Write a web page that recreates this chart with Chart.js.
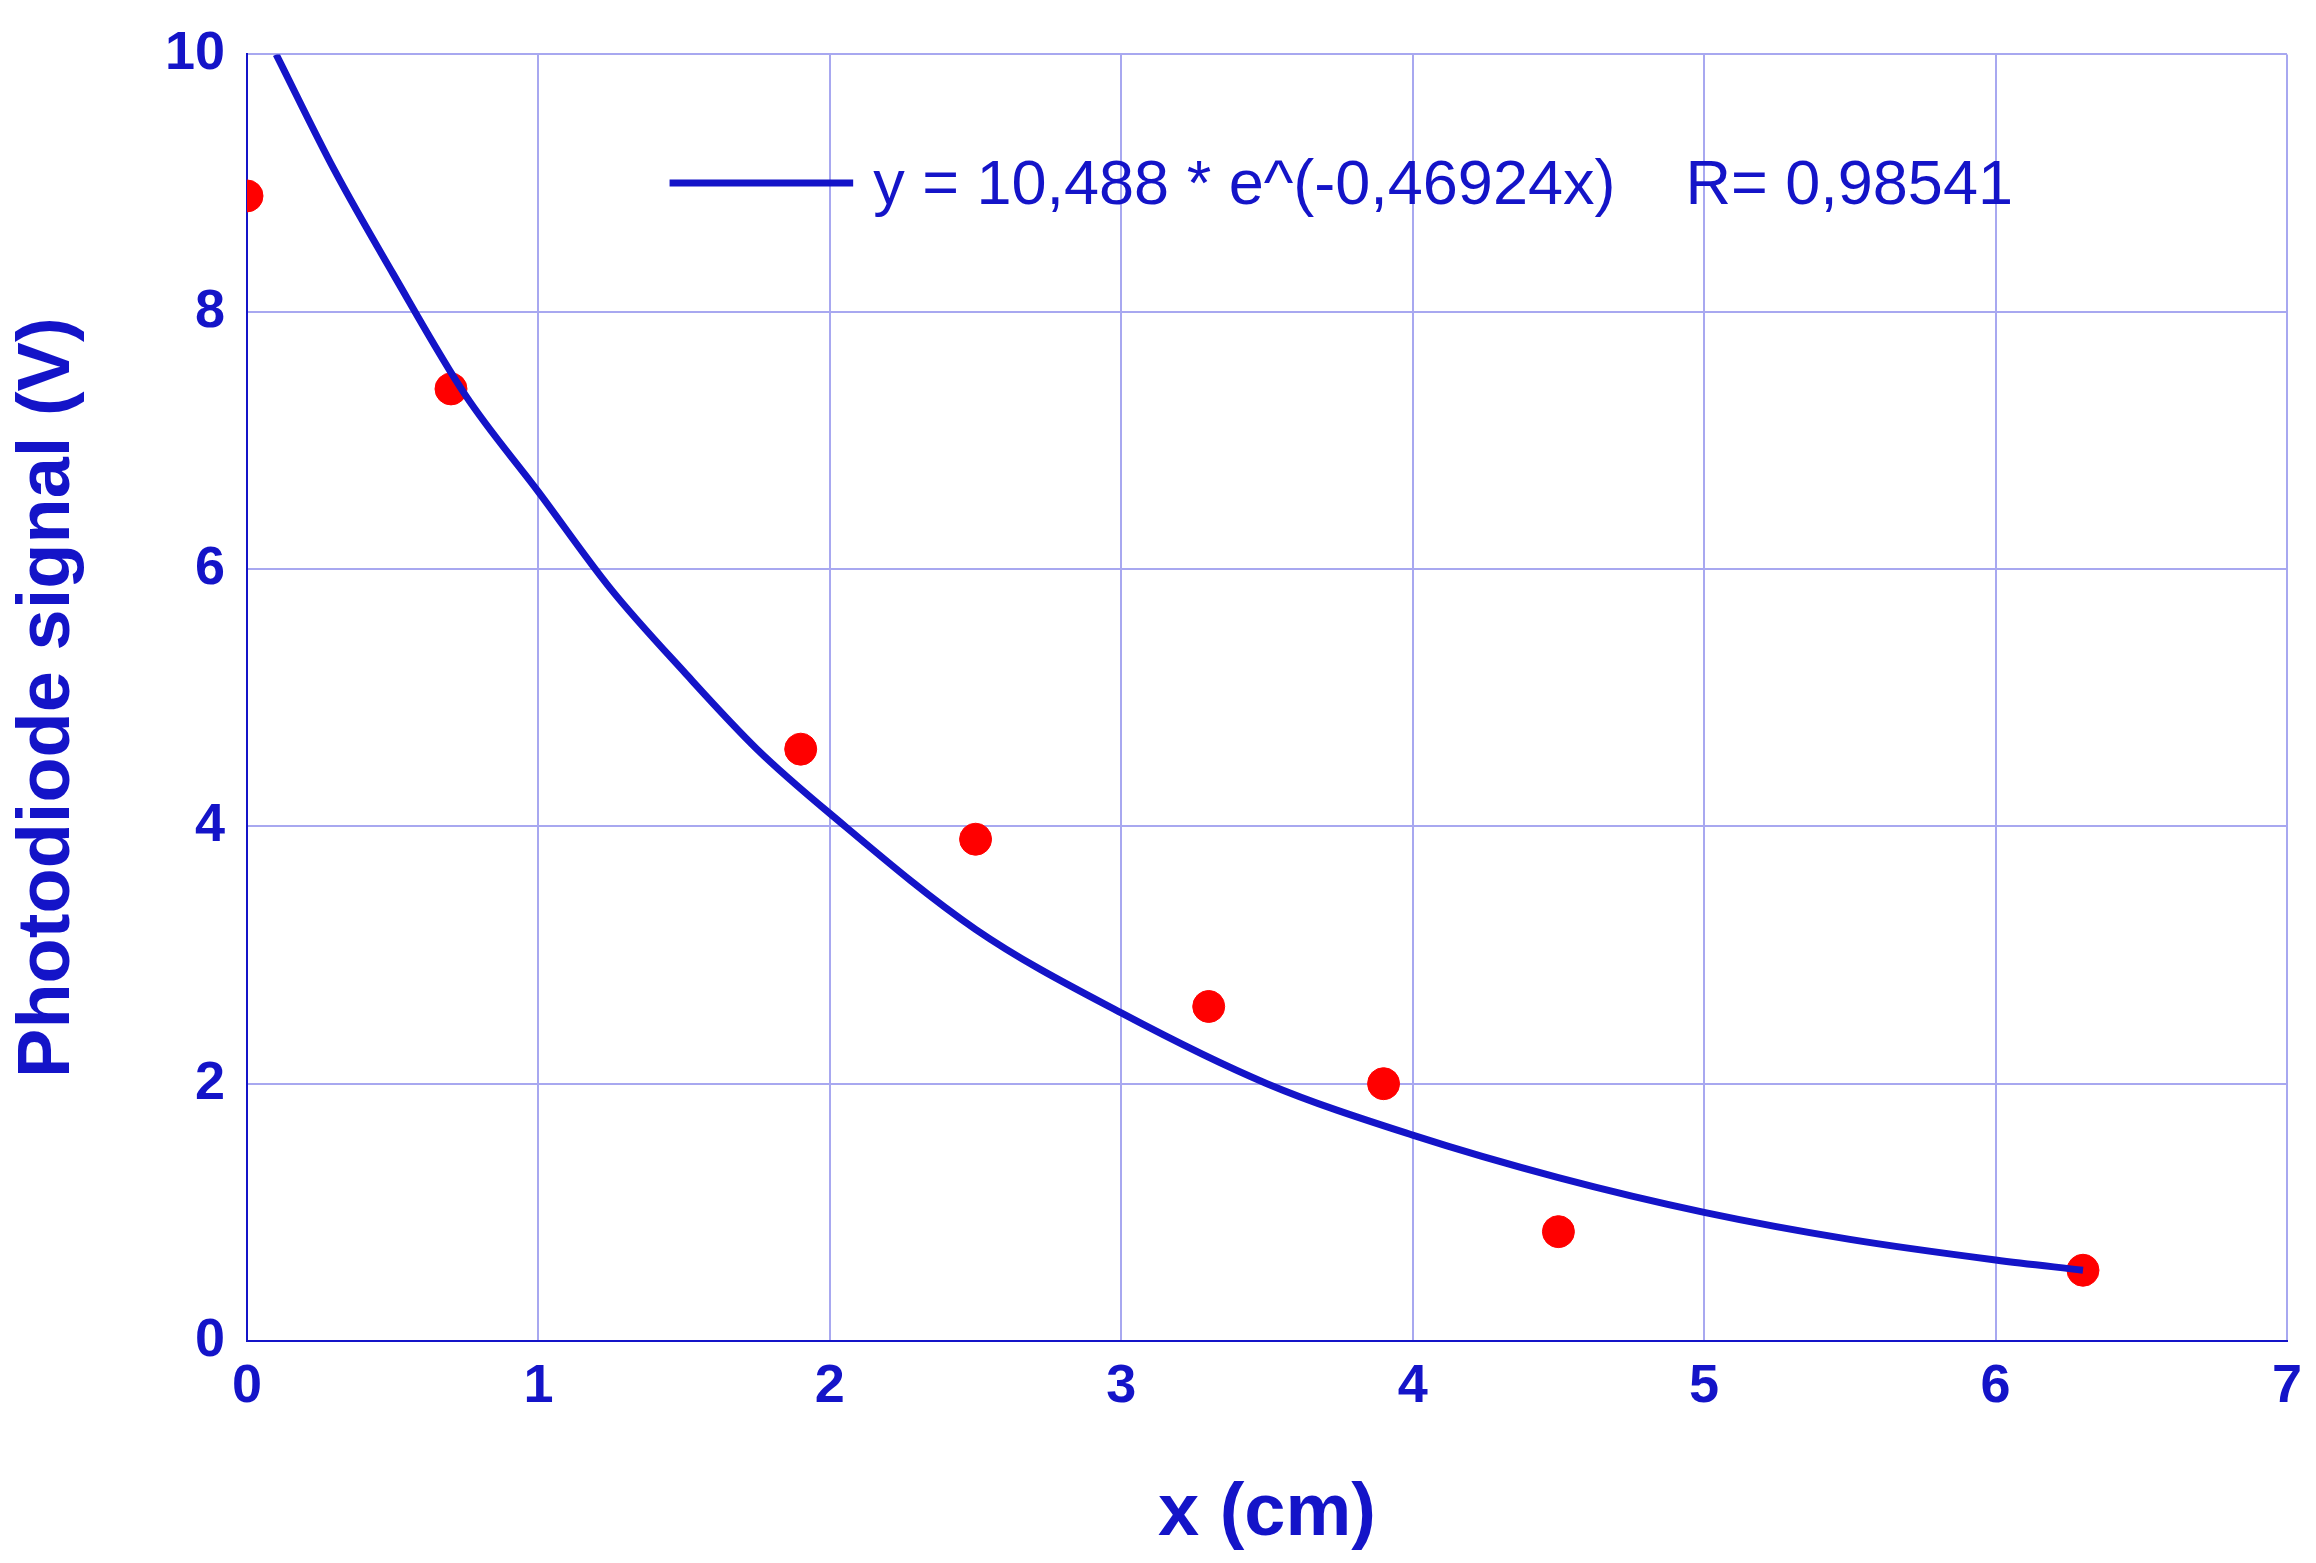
<!DOCTYPE html>
<html><head><meta charset="utf-8">
<script src="https://cdn.jsdelivr.net/npm/chart.js@4"></script>
<style>html,body{margin:0;padding:0;background:#fff}#w{width:2316px;height:1563px}</style>
</head><body><div id="w"><canvas id="c"></canvas></div>
<script>
const dataX = [0, 0.7, 1.9, 2.5, 3.3, 3.9, 4.5, 6.3];
const dataY = [8.9, 7.4, 4.6, 3.9, 2.6, 2.0, 0.85, 0.55];
const fitX = [0.1, 0.3, 0.5, 0.75, 1, 1.25, 1.5, 1.75, 2, 2.5, 3, 3.5, 4, 4.5, 5, 5.5, 6, 6.3];
const fitY = [10.0, 9.1, 8.3, 7.35, 6.6, 5.84, 5.2, 4.6, 4.1, 3.2, 2.55, 2.0, 1.6, 1.27, 1.0, 0.79, 0.63, 0.55];
const legendText = 'y = 10,488 * e^(-0,46924x)    R= 0,98541';
const xTitle = 'x (cm)', yTitle = 'Photodiode signal (V)';
const BLUE = '#1414c8';
const legendPlugin = {id:'lg', afterDraw(ch){
  const c=ch.ctx, xs=ch.scales.x, ys=ch.scales.y;
  const x0=xs.getPixelForValue(1.45), x1=xs.getPixelForValue(2.08), y=ys.getPixelForValue(9.0);
  c.save(); c.strokeStyle=BLUE; c.lineWidth=7; c.beginPath(); c.moveTo(x0,y); c.lineTo(x1,y); c.stroke();
  c.fillStyle=BLUE; c.font='63px "Liberation Sans", Arial'; c.textBaseline='middle';
  c.fillText(legendText, x1+20, y+4); c.restore();
}};
new Chart(document.getElementById('c'), {
  type:'scatter',
  data:{datasets:[
    {data:fitX.map((x,i)=>({x,y:fitY[i]})), showLine:true, borderColor:BLUE, borderWidth:7, pointRadius:0, cubicInterpolationMode:'monotone', fill:false},
    {data:dataX.map((x,i)=>({x,y:dataY[i]})), pointRadius:16, pointBackgroundColor:'#ff0000', pointBorderColor:'#ff0000', showLine:false}
  ]},
  options:{responsive:true, maintainAspectRatio:false, animation:false,
    layout:{padding:{top:52,right:22,left:0,bottom:0}},
    plugins:{legend:{display:false}, tooltip:{enabled:false}},
    scales:{
      x:{type:'linear', min:0, max:7, ticks:{stepSize:1, color:BLUE, padding:14, font:{family:'"Liberation Sans", Arial', size:54, weight:'bold'}},
        grid:{color:'#a8a8f0', lineWidth:2, tickLength:0}, border:{color:BLUE, width:2},
        title:{display:true, text:xTitle, color:BLUE, padding:{top:30}, font:{family:'"Liberation Sans", Arial', size:74, weight:'bold'}},
        afterFit(s){s.height=222;}},
      y:{min:0, max:10, ticks:{stepSize:2, color:BLUE, padding:22, font:{family:'"Liberation Sans", Arial', size:54, weight:'bold'}},
        grid:{color:'#a8a8f0', lineWidth:2, tickLength:0}, border:{color:BLUE, width:2},
        title:{display:true, text:yTitle, color:BLUE, padding:{bottom:20}, font:{family:'"Liberation Sans", Arial', size:74, weight:'bold'}},
        afterFit(s){s.width=247;}}
    }},
  plugins:[legendPlugin]
});
</script></body></html>
